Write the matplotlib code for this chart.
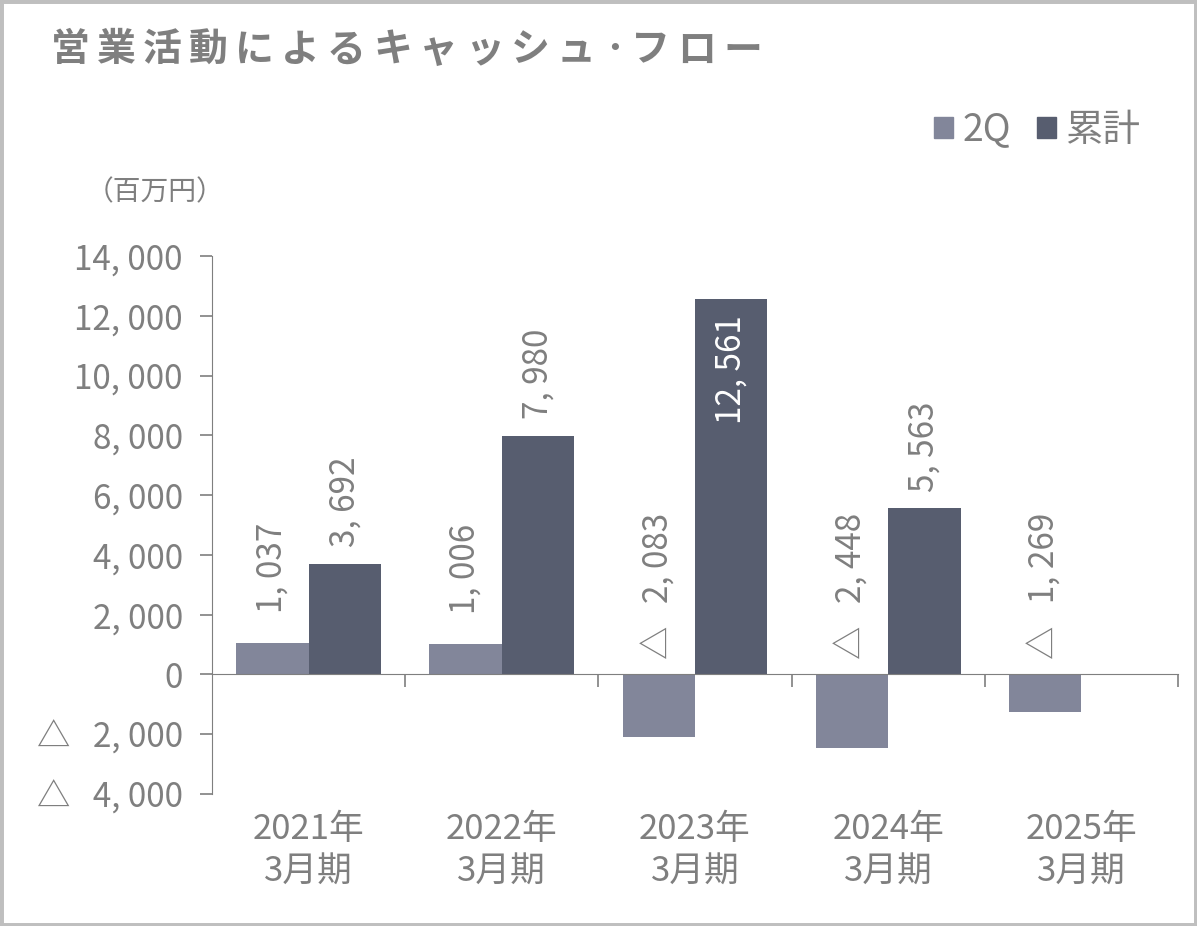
"""
営業活動によるキャッシュ・フロー — 2Q vs 累計, FY2021-FY2025 (百万円)
"""
import numpy as np
import matplotlib
matplotlib.use("Agg")
import matplotlib.pyplot as plt
import matplotlib.transforms as mtrans
from matplotlib.patches import Patch, Rectangle

periods = ["2021年\n3月期", "2022年\n3月期", "2023年\n3月期", "2024年\n3月期", "2025年\n3月期"]
q2 = [1037, 1006, -2083, -2448, -1269]
cumulative = [3692, 7980, 12561, 5563, np.nan]
yticks = [-4000, -2000, 0, 2000, 4000, 6000, 8000, 10000, 12000, 14000]
title = "営業活動によるキャッシュ·フロー"

C_Q2 = "#82869A"
C_CUM = "#575D6F"
GRAY = "#7F7F7F"

plt.rcParams["font.family"] = ["Noto Sans CJK JP", "DejaVu Sans"]


def fmt(v):
    s = f"{abs(v):,.0f}".replace(",", ", ")
    return ("△   " + s) if v < 0 else s


def main():
    W, H = 1197, 926
    fig = plt.figure(figsize=(W / 100, H / 100), dpi=100)
    ax = fig.add_axes([212 / W, 1 - 794 / H, (1178 - 212) / W, (794 - 256) / H])

    x = np.arange(len(periods))
    w = 0.375
    ax.bar(x - w / 2, q2, w, color=C_Q2, label="2Q")
    ax.bar(x + w / 2, cumulative, w, color=C_CUM, label="累計")

    ax.set_xlim(-0.5, len(periods) - 0.5)
    ax.set_ylim(-4000, 14000)
    ax.set_yticks(yticks)
    ax.set_yticklabels([fmt(v) for v in yticks])

    for s in ["top", "right"]:
        ax.spines[s].set_visible(False)
    ax.spines["left"].set_color(GRAY)
    ax.spines["bottom"].set_color(GRAY)
    ax.spines["bottom"].set_position(("data", 0))
    ax.tick_params(axis="y", colors=GRAY, labelcolor=GRAY, labelsize=24,
                   length=9, width=1.2, pad=12)
    ax.set_xticks(np.arange(len(periods)) + 0.5)
    ax.set_xticklabels([])
    ax.tick_params(axis="x", colors=GRAY, length=9, width=1.2, direction="out")

    tr = mtrans.blended_transform_factory(ax.transData, fig.transFigure)
    for i, p in enumerate(periods):
        ax.text(i, 1 - 851 / H, p, transform=tr, ha="center", va="center",
                fontsize=25, color=GRAY, linespacing=1.3)

    # value labels, rotated
    for i in range(len(periods)):
        v = q2[i]
        ax.annotate(fmt(v), (x[i] - w / 2, max(v, 0)), xytext=(0, 22 if v >= 0 else 11),
                    textcoords="offset points", rotation=90, ha="center", va="bottom",
                    fontsize=24, color=GRAY)
        c = cumulative[i]
        if np.isnan(c):
            continue
        if c > 10000:
            ax.annotate(fmt(c), (x[i] + w / 2, c), xytext=(0, -12),
                        textcoords="offset points", rotation=90, ha="center", va="top",
                        fontsize=24, color="white")
        else:
            ax.annotate(fmt(c), (x[i] + w / 2, c), xytext=(0, 12),
                        textcoords="offset points", rotation=90, ha="center", va="bottom",
                        fontsize=24, color=GRAY)

    # title, letter-spaced
    xpos = 51
    for ch in title:
        fig.text(xpos / W, 1 - 50 / H, ch, fontsize=28, color=GRAY,
                 fontweight="bold", va="center", ha="left")
        xpos += 28 if ch == "·" else 46

    fig.text(86 / W, 1 - 192 / H, "（百万円）", fontsize=20, color=GRAY,
             va="center", ha="left")

    handles = [Patch(color=C_Q2, label="2Q"), Patch(color=C_CUM, label="累計")]
    leg = fig.legend(handles=handles, loc="center right", ncol=2, frameon=False,
                     bbox_to_anchor=(1140 / W, 1 - 130 / H), fontsize=27,
                     borderaxespad=0, borderpad=0,
                     handlelength=0.5, handleheight=0.5, handletextpad=0.25,
                     columnspacing=0.7)
    for t in leg.get_texts():
        t.set_color(GRAY)

    fig.patches.append(Rectangle((0, 0), 1, 1, transform=fig.transFigure, fill=False,
                                 edgecolor="#BFBFBF", lw=5))
    fig.savefig("out.png", dpi=100)


if __name__ == "__main__":
    main()
